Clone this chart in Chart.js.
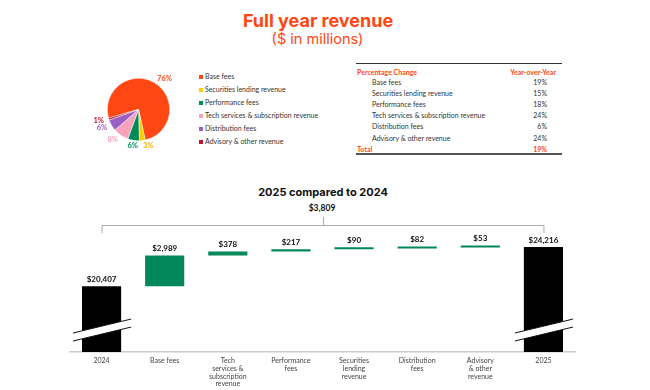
<!DOCTYPE html>
<html>
<head>
<meta charset="utf-8">
<script src="https://cdn.jsdelivr.net/npm/chart.js@4.4.1/dist/chart.umd.min.js"></script>
<style>
  html, body { margin: 0; padding: 0; background: #fff; }
  body { width: 650px; height: 390px; position: relative; overflow: hidden; font-family: Lato, "Noto Sans", sans-serif; color: #333; }
  .abs { position: absolute; white-space: nowrap; }
  #title { left: 0; width: 636px; top: 10px; text-align: center; font-family: Inter, sans-serif; font-weight: 700; font-size: 18px; color: #ff4713; }
  #subtitle { left: 0; width: 635px; top: 30px; text-align: center; font-family: Inter, sans-serif; font-size: 14.5px; color: #ff4713; }
  #pieBox { left: 87px; top: 58px; width: 103px; height: 103px; }
  .leg { font-size: 7px; line-height: 8px; color: #333; }
  .leg i { display: inline-block; width: 4px; height: 4px; margin-right: 2px; vertical-align: 0.5px; }
  .tline { left: 356px; width: 206px; background: #333; }
  .trow { font-size: 7px; line-height: 8px; }
  #wfTitle { left: 0; width: 646px; top: 185px; text-align: center; font-family: Inter, sans-serif; font-weight: 700; font-size: 11px; color: #111; }
  #wfTotal { left: 0; width: 644px; top: 203px; text-align: center; font-weight: 700; font-size: 8.5px; color: #111; }
  #wfBox { left: 0; top: 170px; width: 650px; height: 220px; }
</style>
</head>
<body>
<div id="title" class="abs">Full year revenue</div>
<div id="subtitle" class="abs">($ in millions)</div>
<div id="pieBox" class="abs"><canvas id="pie"></canvas></div>
<div id="legend"></div>
<div id="table"></div>
<div id="wfTitle" class="abs">2025 compared to 2024</div>
<div id="wfTotal" class="abs"></div>
<div id="wfBox" class="abs"><canvas id="wf"></canvas></div>
<script>
// revenue mix (share of 2025 revenue, %)
const segments = ['Base fees', 'Securities lending revenue', 'Performance fees',
  'Tech services & subscription revenue', 'Distribution fees', 'Advisory & other revenue'];
const mixPct = [76, 3, 6, 8, 6, 1];
const mixColors = ['#ff4713', '#ffcd00', '#008a56', '#f7a3bb', '#9a5fc4', '#c8102e'];
const mixLabelColors = ['#ff4713', '#f0b400', '#008a56', '#f4a0b8', '#9a5fc4', '#c8102e'];

// year-over-year change table
const yoyRows = ['Base fees', 'Securities lending revenue', 'Performance fees',
  'Tech services & subscription revenue', 'Distribution fees', 'Advisory & other revenue'];
const yoyPct = [19, 15, 18, 24, 6, 24];
const yoyTotal = 19;

// waterfall
const wfCategories = ['2024', 'Base fees', 'Tech\nservices &\nsubscription\nrevenue', 'Performance\nfees',
  'Securities\nlending\nrevenue', 'Distribution\nfees', 'Advisory\n& other\nrevenue', '2025'];
const startValue = 20407;
const increments = [2989, 378, 217, 90, 82, 53];
const endValue = 24216;

const ORANGE = '#ff4713';
const fmt = v => '$' + v.toLocaleString('en-US');

// legend
let legHtml = '';
segments.forEach((s, i) => {
  legHtml += '<div class="abs leg" style="left:199px;top:' + (72.3 + i * 13) + 'px"><i style="background:' +
    mixColors[i] + '"></i>' + s + '</div>';
});
document.getElementById('legend').innerHTML = legHtml;

// table
let tHtml = '<div class="abs tline" style="top:62.5px;height:1px"></div>';
tHtml += '<div class="abs trow" style="left:357px;top:67.5px;font-weight:700;color:' + ORANGE + '">Percentage Change</div>';
tHtml += '<div class="abs trow" style="left:456px;width:100px;text-align:right;top:67.5px;font-weight:700;color:' + ORANGE + '">Year-over-Year</div>';
yoyRows.forEach((r, i) => {
  const y = 78 + i * 11.1;
  tHtml += '<div class="abs trow" style="left:372px;top:' + y + 'px">' + r + '</div>';
  tHtml += '<div class="abs trow" style="left:497px;width:50px;text-align:right;top:' + y + 'px">' + yoyPct[i] + '%</div>';
});
tHtml += '<div class="abs trow" style="left:357px;top:' + (78 + 6 * 11.1) + 'px;font-weight:700;color:' + ORANGE + '">Total</div>';
tHtml += '<div class="abs trow" style="left:497px;width:50px;text-align:right;top:' + (78 + 6 * 11.1) + 'px;font-weight:700;color:' + ORANGE + '">' + yoyTotal + '%</div>';
tHtml += '<div class="abs tline" style="top:153px;height:2px;background:#555"></div>';
document.getElementById('table').innerHTML = tHtml;

// pie labels
const pieLabels = {
  id: 'pieLabels',
  afterDatasetsDraw(chart) {
    const ctx = chart.ctx;
    const meta = chart.getDatasetMeta(0);
    ctx.save();
    ctx.font = '700 7.5px Lato, sans-serif';
    ctx.textBaseline = 'middle';
    meta.data.forEach((arc, i) => {
      const mid = (arc.startAngle + arc.endAngle) / 2;
      const r = arc.outerRadius + 5;
      const dx = Math.cos(mid) * r, dy = Math.sin(mid) * r;
      ctx.textAlign = dx > 3 ? 'left' : (dx < -10 ? 'right' : 'center');
      ctx.fillStyle = mixLabelColors[i];
      ctx.fillText(mixPct[i] + '%', arc.x + dx, arc.y + dy);
    });
    ctx.restore();
  }
};

new Chart(document.getElementById('pie'), {
  type: 'pie',
  data: {
    labels: segments,
    datasets: [{ data: mixPct, backgroundColor: mixColors, borderWidth: 0.5, borderColor: '#fff' }]
  },
  options: {
    responsive: true,
    maintainAspectRatio: false,
    animation: false,
    rotation: -106,
    layout: { padding: 20 },
    plugins: { legend: { display: false }, tooltip: { enabled: false } }
  },
  plugins: [pieLabels]
});

// waterfall data built from the arrays
const wfData = [startValue];
const wfColors = ['#000'];
let running = startValue;
increments.forEach(d => {
  wfData.push([running, running + d]);
  wfColors.push('#00875a');
  running += d;
});
wfData.push(endValue);
wfColors.push('#000');
const wfValues = [startValue, ...increments, endValue];
document.getElementById('wfTotal').textContent = fmt(endValue - startValue);

const wfDecor = {
  id: 'wfDecor',
  afterDatasetsDraw(chart) {
    const ctx = chart.ctx;
    const bars = chart.getDatasetMeta(0).data;
    const bottom = chart.chartArea.bottom;
    ctx.save();
    // value labels
    ctx.font = '700 8px Lato, sans-serif';
    ctx.fillStyle = '#111';
    ctx.textAlign = 'center';
    ctx.textBaseline = 'bottom';
    bars.forEach((b, i) => {
      const top = Math.min(b.y, b.base);
      ctx.fillText(fmt(wfValues[i]), b.x, top - 3);
    });
    // axis breaks on the total bars
    [bars[0], bars[bars.length - 1]].forEach(b => {
      const x0 = b.x - b.width / 2 - 9, x1 = b.x + b.width / 2 + 10;
      const y0 = bottom - 19, y1 = bottom - 19 - (x1 - x0) * 0.24;
      const gap = 8;
      ctx.beginPath();
      ctx.moveTo(x0, y0); ctx.lineTo(x1, y1); ctx.lineTo(x1, y1 + gap); ctx.lineTo(x0, y0 + gap); ctx.closePath();
      ctx.fillStyle = '#fff';
      ctx.fill();
      ctx.strokeStyle = '#111';
      ctx.lineWidth = 1;
      ctx.beginPath();
      ctx.moveTo(x0, y0); ctx.lineTo(x1, y1);
      ctx.moveTo(x0, y0 + gap); ctx.lineTo(x1, y1 + gap);
      ctx.stroke();
    });
    // bracket
    const xl = bars[0].x, xr = bars[bars.length - 1].x, yb = 55;
    ctx.strokeStyle = '#aaa';
    ctx.lineWidth = 1;
    ctx.beginPath();
    ctx.moveTo(xl + 0.5, yb + 8); ctx.lineTo(xl + 0.5, yb + 0.5); ctx.lineTo(xr + 0.5, yb + 0.5); ctx.lineTo(xr + 0.5, yb + 8);
    const xm = Math.round((xl + xr) / 2) + 0.5;
    ctx.moveTo(xm, yb); ctx.lineTo(xm, yb - 8);
    ctx.stroke();
    ctx.restore();
  }
};

new Chart(document.getElementById('wf'), {
  type: 'bar',
  data: {
    labels: wfCategories.map(c => c.split('\n')),
    datasets: [{ data: wfData, backgroundColor: wfColors, barPercentage: 0.62, categoryPercentage: 1, minBarLength: 2 }]
  },
  options: {
    responsive: true,
    maintainAspectRatio: false,
    animation: false,
    layout: { padding: { top: 70, left: 70, right: 75, bottom: 0 } },
    scales: {
      x: {
        grid: { display: false, drawTicks: false },
        border: { color: '#ccc', width: 1.5 },
        ticks: { color: '#444', font: { size: 7, family: 'Lato, sans-serif', lineHeight: 1.1 }, padding: 5, maxRotation: 0, autoSkip: false },
        afterFit: s => { s.height = 38; }
      },
      y: { display: false, min: 14000, max: 24900 }
    },
    plugins: { legend: { display: false }, tooltip: { enabled: false } }
  },
  plugins: [wfDecor]
});
</script>
</body>
</html>
